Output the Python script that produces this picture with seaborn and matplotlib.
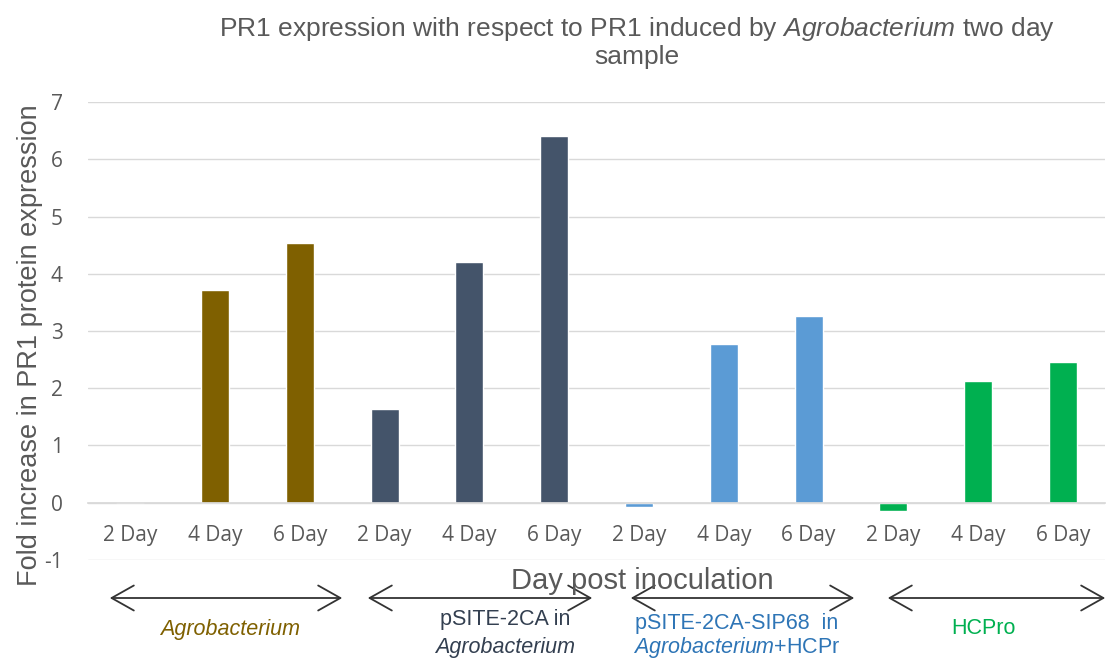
import matplotlib
matplotlib.use("Agg")
import matplotlib.pyplot as plt
import seaborn as sns
import pandas as pd

groups = ["Agrobacterium", "pSITE-2CA in Agrobacterium", "pSITE-2CA-SIP68 in Agrobacterium+HCPro", "HCPro"]
days = ["2 Day", "4 Day", "6 Day"]
agro = [0.0, 3.71, 4.53]
psite = [1.64, 4.20, 6.40]
sip68 = [-0.07, 2.78, 3.27]
hcpro = [-0.14, 2.13, 2.45]
colors = ["#7F6000", "#44546A", "#5B9BD5", "#00B050"]

rows = []
for g, vals in zip(groups, [agro, psite, sip68, hcpro]):
    for d, v in zip(days, vals):
        rows.append({"pos": len(rows), "group": g, "day": d, "value": v})
df = pd.DataFrame(rows)

sns.set_theme(style="white")
plt.rcParams["font.family"] = ["Liberation Sans", "DejaVu Sans"]
plt.rcParams["mathtext.fontset"] = "custom"
plt.rcParams["mathtext.it"] = "Liberation Sans:italic"
plt.rcParams["mathtext.rm"] = "Liberation Sans"
plt.rcParams["axes.unicode_minus"] = False

fig = plt.figure(figsize=(11.11, 6.59), dpi=100)
ax = fig.add_axes([0.079, 0.150, 0.916, 0.695])

sns.barplot(data=df, x="pos", y="value", hue="group", palette=colors,
            dodge=False, width=0.33, ax=ax, legend=False, saturation=1)

ax.set_ylim(-1.005, 7)
ax.set_xlim(-0.5, 11.5)
ax.set_yticks(range(-1, 8))
ax.yaxis.grid(True, color="#d9d9d9", linewidth=1)
ax.set_axisbelow(True)
for s in ax.spines.values():
    s.set_visible(False)
ax.spines["bottom"].set_visible(True)
ax.spines["bottom"].set_position(("data", 0))
ax.spines["bottom"].set_color("#d9d9d9")
ax.tick_params(axis="both", length=0, labelsize=15, colors="#595959")
ax.tick_params(axis="x", pad=16)
ax.tick_params(axis="y", pad=18)
ax.set_xticks(range(12))
ax.set_xticklabels(df["day"].tolist(), fontfamily="Open Sans")
for t in ax.get_yticklabels():
    t.set_fontfamily("Open Sans")
ax.set_xlabel("")
ax.set_ylabel("")
fig.text(30 / 1111, 1 - 345 / 659, "Fold increase in PR1 protein expression", rotation=90,
         ha="center", va="center", fontsize=19.5, color="#595959")

fig.text(0.573, 1 - 42 / 659, "PR1 expression with respect to PR1 induced by $\\it{Agrobacterium}$ two day\nsample",
         ha="center", va="center", fontsize=19, color="#595959", linespacing=1.1)
fig.text(0.578, 0.118, "Day post inoculation", ha="center", va="center", fontsize=21, color="#595959")

arrow_spans = [(107, 345), (365, 595), (628, 857), (885, 1108)]
for x0, x1 in arrow_spans:
    ax.annotate("", xy=(x0 / 1111, 1 - 598 / 659), xytext=(x1 / 1111, 1 - 598 / 659),
                xycoords="figure fraction", textcoords="figure fraction",
                arrowprops=dict(arrowstyle="<->, head_length=0.8, head_width=0.45",
                                color="#333333", lw=1.3, mutation_scale=20))

fs = 15.5
fig.text(230 / 1111, 1 - 629 / 659, "Agrobacterium", style="italic", ha="center", va="center",
         fontsize=fs, color="#7F6000")
fig.text(505 / 1111, 1 - 620 / 659, "pSITE-2CA in", ha="center", va="center", fontsize=fs, color="#333F50")
fig.text(505 / 1111, 1 - 647 / 659, "Agrobacterium", style="italic", ha="center", va="center", fontsize=fs, color="#333F50")
fig.text(737 / 1111, 1 - 624 / 659, "pSITE-2CA-SIP68  in", ha="center", va="center", fontsize=fs, color="#2E75B6")
fig.text(737 / 1111, 1 - 648 / 659, "$\\it{Agrobacterium}$+HCPr", ha="center", va="center", fontsize=fs, color="#2E75B6")
fig.text(983 / 1111, 1 - 629 / 659, "HCPro", ha="center", va="center", fontsize=fs, color="#00B050")

fig.savefig("out.png", dpi=100)
